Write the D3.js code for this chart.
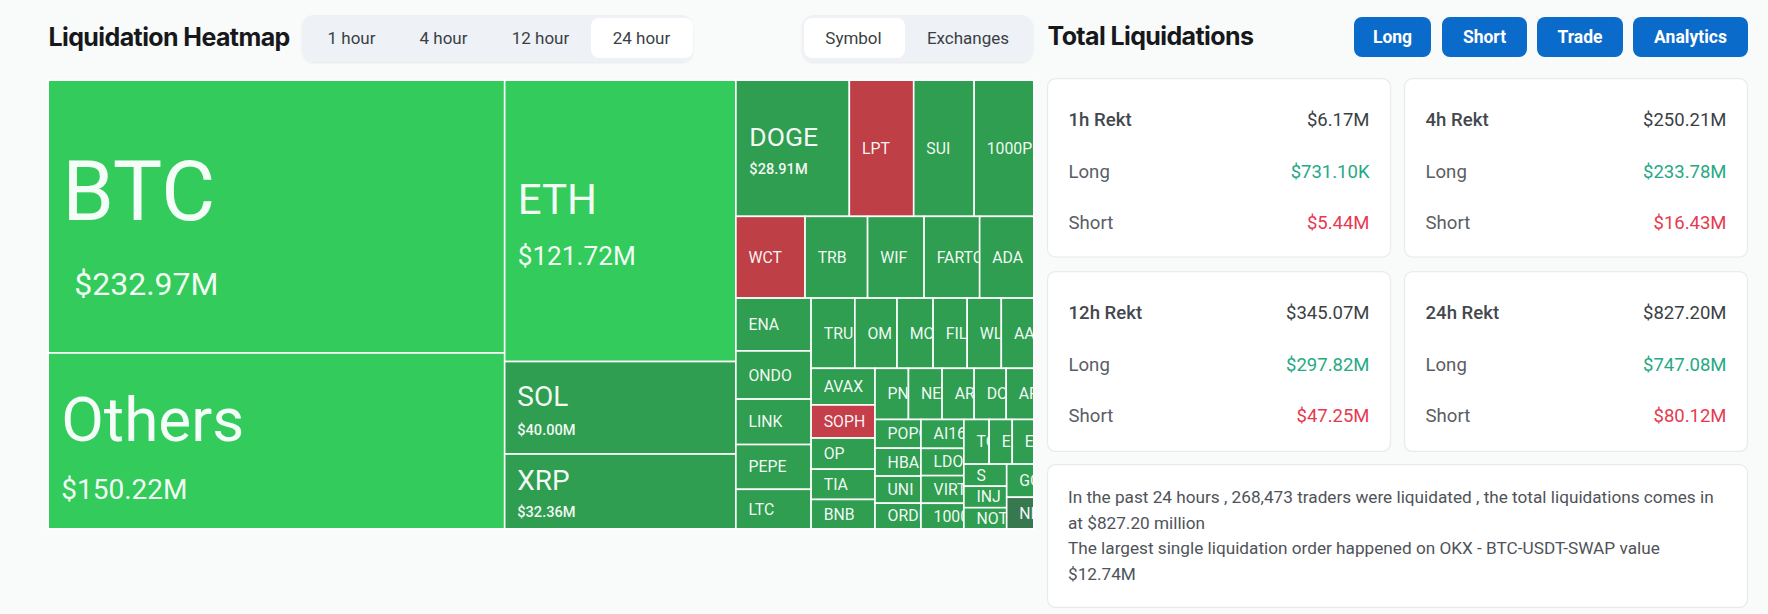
<!DOCTYPE html>
<html><head><meta charset="utf-8">
<script src="https://cdn.jsdelivr.net/npm/d3@7/dist/d3.min.js"></script>
<style>
html,body{margin:0;padding:0;background:#F9FAFA;overflow:hidden}
svg{display:block}
text{font-family:Roboto,"Noto Sans",sans-serif}
</style></head><body>
<svg id="c" width="1768" height="614"></svg>
<script>
// ---------- data ----------
const col1Names=["BTC","Others"], col1Values=[232.97,150.22];
const col2Names=["ETH","SOL","XRP"], col2Values=[121.72,40.00,32.36];
const row1Names=["DOGE","LPT","SUI","1000PEPE"], row1Values=[28.91,16.4,15.4,15.2];
const row2Names=["WCT","TRB","WIF","FARTCOIN","ADA"], row2Values=[10.58,9.56,8.64,8.5,8.28];
const enaNames=["ENA","ONDO","LINK","PEPE","LTC"], enaValues=[7.44,6.78,6.4,6.3,5.56];
const truNames=["TRUMP","OM","MOODENG","FIL","WLD","AAVE"], truValues=[5.75,5.54,4.74,4.48,4.48,4.27];
const avaxNames=["AVAX","SOPH","OP","TIA","BNB"], avaxValues=[4.38,3.96,3.72,3.62,3.51];
const pnNames=["PNUT","NEAR","ARB","DOT","APT"], pnValues=[3.2,3.22,3.07,3.07,2.64];
const popNames=["POPCAT","HBAR","UNI","ORDI"], popValues=[2.47,2.4,2.33,2.2];
const aiNames=["AI16Z","LDO","VIRTUAL","1000BONK"], aiValues=[2.32,2.19,2.22,2.05];
const tonNames=["TON","ETC","EIGEN"], tonValues=[2.11,1.93,1.8];
const sNames=["S","INJ","NOT"], sValues=[1.77,1.72,1.69];
const goatNames=["GOAT","NIL"], goatValues=[1.68,1.60];

const redSymbols=["LPT","WCT","SOPH"], brightSymbols=["BTC","Others","ETH"], deepSymbols=["NIL"];
const moneyLabels={BTC:"$232.97M",Others:"$150.22M",ETH:"$121.72M",SOL:"$40.00M",XRP:"$32.36M",DOGE:"$28.91M"};

const timeTabs=["1 hour","4 hour","12 hour","24 hour"];
const viewTabs=["Symbol","Exchanges"];
const actionButtons=["Long","Short","Trade","Analytics"];
const rektLabels=["1h Rekt","4h Rekt","12h Rekt","24h Rekt"];
const rektTotals=["$6.17M","$250.21M","$345.07M","$827.20M"];
const rektLongs=["$731.10K","$233.78M","$297.82M","$747.08M"];
const rektShorts=["$5.44M","$16.43M","$47.25M","$80.12M"];
const noteLines=["In the past 24 hours , 268,473 traders were liquidated , the total liquidations comes in","at $827.20 million","The largest single liquidation order happened on OKX - BTC-USDT-SWAP value","$12.74M"];

// ---------- helpers ----------
const leaves=(ns,vs)=>ns.map((name,i)=>({name,value:vs[i]}));
const group=(...children)=>({children});
const treeData=group(
  group(...leaves(col1Names,col1Values)),
  group(...leaves(col2Names,col2Values)),
  group(
    group(...leaves(row1Names,row1Values)),
    group(...leaves(row2Names,row2Values)),
    group(
      group(...leaves(enaNames,enaValues)),
      group(
        group(...leaves(truNames,truValues)),
        group(
          group(...leaves(avaxNames,avaxValues)),
          group(
            group(...leaves(pnNames,pnValues)),
            group(
              group(...leaves(popNames,popValues)),
              group(...leaves(aiNames,aiValues)),
              group(
                group(...leaves(tonNames,tonValues)),
                group(
                  group(...leaves(sNames,sValues)),
                  group(...leaves(goatNames,goatValues))
                )
              )
            )
          )
        )
      )
    )
  )
);

const svg=d3.select("#c");
const defs=svg.append("defs");
const sh=defs.append("filter").attr("id","sh").attr("x","-5%").attr("y","-10%").attr("width","110%").attr("height","130%");
sh.append("feDropShadow").attr("dx",0).attr("dy",1).attr("stdDeviation",1).attr("flood-color","#000").attr("flood-opacity",0.07);

// ---------- header ----------
svg.append("text").attr("x",48.5).attr("y",37).attr("dominant-baseline","central")
  .attr("font-size",25).attr("font-weight",700).attr("fill","#17181B").attr("letter-spacing",-0.6).style("font-family","Inter").text("Liquidation Heatmap");
svg.append("text").attr("x",1047.5).attr("y",36).attr("dominant-baseline","central")
  .attr("font-size",25).attr("font-weight",700).attr("fill","#17181B").attr("letter-spacing",-0.6).style("font-family","Inter").text("Total Liquidations");

function tabs(box,labels,centers,activeBox){
  svg.append("rect").attr("x",box[0]).attr("y",15).attr("width",box[1]-box[0]).attr("height",47).attr("rx",12)
    .attr("fill","#EEF1F5").attr("filter","url(#sh)");
  svg.append("rect").attr("x",activeBox[0]).attr("y",18).attr("width",activeBox[1]-activeBox[0]).attr("height",40).attr("rx",8)
    .attr("fill","#fff");
  svg.selectAll(null).data(labels).join("text")
    .attr("x",(d,i)=>centers[i]).attr("y",38).attr("text-anchor","middle").attr("dominant-baseline","central")
    .attr("font-size",17).attr("fill","#3A3F45").text(d=>d);
}
tabs([302,693],timeTabs,[351.5,443.5,540.5,641.5],[591,693]);
tabs([802,1033],viewTabs,[853.5,968],[804,905]);

const btnX=[[1354,1431],[1442,1527],[1537,1623],[1633,1748]];
svg.selectAll(null).data(actionButtons).join("rect")
  .attr("x",(d,i)=>btnX[i][0]).attr("y",17).attr("width",(d,i)=>btnX[i][1]-btnX[i][0]).attr("height",40).attr("rx",8).attr("fill","#0B6BCB");
svg.selectAll(null).data(actionButtons).join("text")
  .attr("x",(d,i)=>(btnX[i][0]+btnX[i][1])/2).attr("y",36.5).attr("text-anchor","middle").attr("dominant-baseline","central")
  .attr("font-size",17.5).attr("font-weight",700).attr("fill","#fff").text(d=>d);

// ---------- treemap ----------
const W=985.6,H=448.6;
const root=d3.hierarchy(treeData).sum(d=>d.value||0);
d3.treemap().size([W,H]).tile(d3.treemapSliceDice)(root);
const color=n=>redSymbols.includes(n)?(n==="SOPH"?"#C43F4A":"#BE3F46")
  :brightSymbols.includes(n)?"#33CC5C":deepSymbols.includes(n)?"#38784F":"#2F9E51";
const big={BTC:{f:83,v:32,dn:-25,dv:67,xn:14,xv:26},Others:{f:62,v:28,dn:-21.5,dv:48.7,xn:13,xv:13},
  ETH:{f:42,v:26.2,dn:-21,dv:34.7,xn:13,xv:13},SOL:{f:28,v:14.6,dn:-10.8,dv:22.5,xn:12.6,xv:12.6},
  XRP:{f:28,v:14.6,dn:-11,dv:20.6,xn:12.6,xv:12.6},DOGE:{f:26.5,v:14.6,dn:-11.8,dv:20.5,xn:13.5,xv:13.5}};
const map=svg.append("g").attr("transform","translate(48.2,80.2)");
const cell=map.selectAll("g").data(root.leaves()).join("g");
cell.append("clipPath").attr("id",(d,i)=>"cl"+i).append("rect")
  .attr("x",d=>d.x0).attr("y",d=>d.y0).attr("width",d=>d.x1-d.x0-0.8).attr("height",d=>d.y1-d.y0);
cell.append("rect").attr("x",d=>d.x0).attr("y",d=>d.y0).attr("width",d=>d.x1-d.x0).attr("height",d=>d.y1-d.y0)
  .attr("fill",d=>color(d.data.name)).attr("stroke","#fff").attr("stroke-width",1.6);
const lab=cell.append("g").attr("clip-path",(d,i)=>`url(#cl${i})`);
const nameX=d=>big[d.data.name]?big[d.data.name].xn:12.6;
lab.append("text")
  .attr("x",d=>d.x0+nameX(d))
  .attr("y",d=>(d.y0+d.y1)/2+(big[d.data.name]?big[d.data.name].dn:0))
  .attr("dominant-baseline","central")
  .attr("font-size",d=>big[d.data.name]?big[d.data.name].f:15.8)
  .attr("fill","#fff").attr("fill-opacity",0.95).text(d=>d.data.name)
  .each(function(d){ // like the reference, a long name stops at its cell's edge
    const avail=d.x1-d.x0-nameX(d); let n=d.data.name.length;
    while(n>1 && this.getSubStringLength(0,n-1)>=avail) n--;
    this.textContent=d.data.name.slice(0,n);
  });
lab.filter(d=>moneyLabels[d.data.name]).append("text")
  .attr("x",d=>d.x0+big[d.data.name].xv)
  .attr("y",d=>(d.y0+d.y1)/2+big[d.data.name].dv)
  .attr("dominant-baseline","central")
  .attr("font-size",d=>big[d.data.name].v)
  .attr("font-weight",d=>big[d.data.name].v<20?500:400)
  .attr("fill","#fff").attr("fill-opacity",0.95).text(d=>moneyLabels[d.data.name]);

// ---------- cards ----------
const cardX=[1047.5,1404.5,1047.5,1404.5], cardY=[78.7,78.7,271.7,271.7], cardH=[178.3,178.3,179.6,179.6];
svg.selectAll(null).data(rektLabels).join("rect")
  .attr("x",(d,i)=>cardX[i]).attr("y",(d,i)=>cardY[i]).attr("width",343).attr("height",(d,i)=>cardH[i]).attr("rx",8)
  .attr("fill","#fff").attr("stroke","#E8EAEC").attr("stroke-width",1.2);
const rowDy=[41.5,92.8,143.8];
rektLabels.forEach((lbl,i)=>{
  const lx=cardX[i]+21, rx=cardX[i]+322;
  const rows=[[lbl,rektTotals[i],"#44484E","#3B3F44",500],["Long",rektLongs[i],"#5A5E64","#26A985",400],["Short",rektShorts[i],"#5A5E64","#E63A50",400]];
  rows.forEach((r,j)=>{
    const y=cardY[i]+rowDy[j];
    svg.append("text").attr("x",lx).attr("y",y).attr("dominant-baseline","central").attr("font-size",18.6).attr("font-weight",r[4]).attr("fill",r[2]).text(r[0]);
    svg.append("text").attr("x",rx).attr("y",y).attr("text-anchor","end").attr("dominant-baseline","central").attr("font-size",18.5).attr("fill",r[3]).text(r[1]);
  });
});
svg.append("rect").attr("x",1047.5).attr("y",464.7).attr("width",700).attr("height",142.6).attr("rx",8)
  .attr("fill","#fff").attr("stroke","#E8EAEC").attr("stroke-width",1.2);
const noteY=[497.3,523.3,548.3,574];
svg.selectAll(null).data(noteLines).join("text").attr("x",1068).attr("y",(d,i)=>noteY[i])
  .attr("dominant-baseline","central").attr("font-size",17.2).attr("fill","#4F5359").text(d=>d);
</script>
</body></html>
